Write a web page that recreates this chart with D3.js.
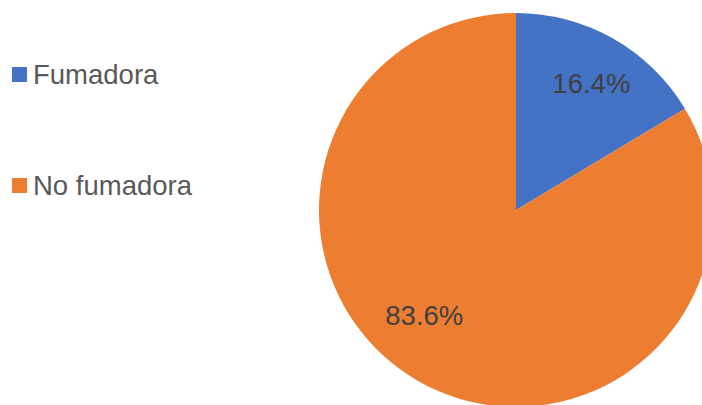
<!DOCTYPE html>
<html>
<head>
<meta charset="utf-8">
<script src="https://cdn.jsdelivr.net/npm/d3@7"></script>
<style>
  html, body { margin: 0; padding: 0; background: #fff; }
  svg { display: block; }
</style>
</head>
<body>
<svg id="chart" width="702" height="405"></svg>
<script>
// Share of women by smoking status
const categories = ["Fumadora", "No fumadora"];
const values = [16.4, 83.6];
const colors = ["#4472C4", "#ED7D31"];

const svg = d3.select("#chart");
const cx = 516, cy = 210, R = 197;
const font = "'Liberation Sans', Arial, sans-serif";
const fontSize = "27.5px";

const color = d3.scaleOrdinal().domain(categories).range(colors);

const pie = d3.pie().sort(null).value(d => d.value);
const arcs = pie(categories.map((c, i) => ({ cat: c, value: values[i] })));

const arc = d3.arc().innerRadius(0).outerRadius(R);

const g = svg.append("g").attr("transform", `translate(${cx},${cy})`);

g.selectAll("path.slice")
  .data(arcs)
  .enter().append("path")
  .attr("class", "slice")
  .attr("d", arc)
  .attr("fill", d => color(d.data.cat));

// Data labels placed inside each slice
const labelPlacement = [
  { r: 0.75 * R, shift: 0.02 },
  { r: 0.71 * R, shift: 0.2 }
];
g.selectAll("text.lbl")
  .data(arcs)
  .enter().append("text")
  .attr("class", "lbl")
  .attr("x", (d, i) => {
    const a = (d.startAngle + d.endAngle) / 2 + labelPlacement[i].shift;
    return labelPlacement[i].r * Math.sin(a);
  })
  .attr("y", (d, i) => {
    const a = (d.startAngle + d.endAngle) / 2 + labelPlacement[i].shift;
    return -labelPlacement[i].r * Math.cos(a);
  })
  .attr("dy", "0.35em")
  .attr("text-anchor", "middle")
  .attr("font-family", font)
  .attr("font-size", fontSize)
  .attr("fill", "#404040")
  .text(d => d3.format(".1f")(d.data.value) + "%");

// Legend
const legendY = d3.scalePoint().domain(categories).range([75, 186]);
const item = svg.append("g").selectAll("g.item")
  .data(categories)
  .enter().append("g")
  .attr("class", "item")
  .attr("transform", d => `translate(12,${legendY(d)})`);

item.append("rect")
  .attr("x", 0).attr("y", -8)
  .attr("width", 15).attr("height", 15)
  .attr("fill", d => color(d));

item.append("text")
  .attr("x", 21).attr("y", 8.5)
  .attr("font-family", font)
  .attr("font-size", fontSize)
  .attr("fill", "#595959")
  .text(d => d);
</script>
</body>
</html>
